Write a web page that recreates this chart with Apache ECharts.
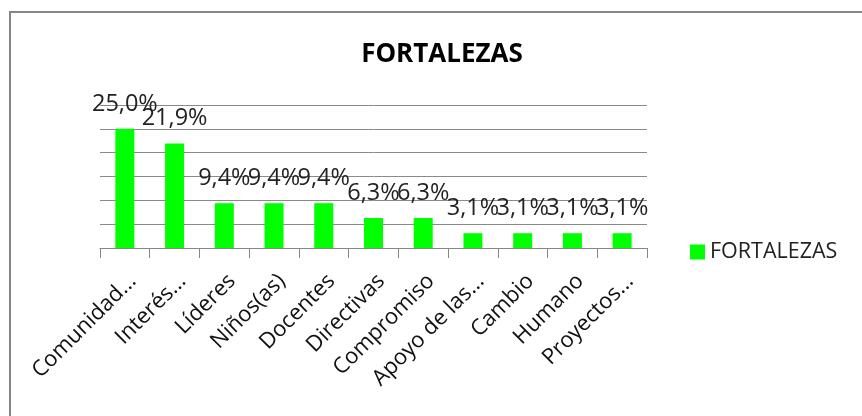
<!DOCTYPE html>
<html>
<head>
<meta charset="utf-8">
<script src="https://cdn.jsdelivr.net/npm/echarts@6/dist/echarts.min.js"></script>
<style>
html,body{margin:0;padding:0;background:#fff;}
#chart{width:862px;height:416px;}
</style>
</head>
<body>
<div id="chart"></div>
<script>
var titleText = 'FORTALEZAS';
var seriesName = 'FORTALEZAS';
var categories = ['Comunidad...', 'Interés...', 'Líderes', 'Niños(as)', 'Docentes', 'Directivas', 'Compromiso', 'Apoyo de las...', 'Cambio', 'Humano', 'Proyectos...'];
var values = [25.0, 21.9, 9.4, 9.4, 9.4, 6.3, 6.3, 3.1, 3.1, 3.1, 3.1];
var yMin = 0, yMax = 30, yInterval = 5;

var FONT = "'Open Sans', 'Noto Sans', sans-serif";
var chart = echarts.init(document.getElementById('chart'), null, {renderer: 'canvas'});
chart.setOption({
  animation: false,
  backgroundColor: '#ffffff',
  title: {
    text: titleText,
    left: 437, top: 37, textAlign: 'center',
    textStyle: {fontFamily: FONT, fontSize: 26, fontWeight: 'bold', color: '#000'}
  },
  legend: {
    data: [seriesName],
    left: 685, top: 236,
    itemWidth: 15, itemHeight: 15, itemGap: 8,
    icon: 'rect',
    textStyle: {fontFamily: FONT, fontSize: 21.5, color: '#222'}
  },
  grid: {left: 100, right: 215, top: 105, bottom: 168, containLabel: false},
  xAxis: {
    type: 'category',
    data: categories,
    axisLine: {lineStyle: {color: '#868686', width: 1}},
    axisTick: {show: true, length: 10, lineStyle: {color: '#868686'}},
    axisLabel: {rotate: 45, margin: 22, interval: 0, verticalAlign: 'top', fontFamily: FONT, fontSize: 22, color: '#111'}
  },
  yAxis: {
    type: 'value',
    min: yMin, max: yMax, interval: yInterval,
    axisLine: {show: false},
    axisTick: {show: false},
    axisLabel: {show: false},
    splitLine: {lineStyle: {color: '#8a8a8a', width: 1}}
  },
  graphic: [{
    type: 'rect', silent: true, z: -1,
    shape: {x: 10, y: 12, width: 900, height: 500},
    style: {fill: 'none', stroke: '#868686', lineWidth: 2}
  }],
  series: [{
    name: seriesName,
    type: 'bar',
    data: values,
    barWidth: 19,
    itemStyle: {color: '#00ff00'},
    label: {
      show: true, position: 'top', distance: 13,
      fontFamily: FONT, fontSize: 23.5, color: '#222',
      formatter: function (p) { return p.value.toFixed(1).replace('.', ',') + '%'; }
    }
  }]
});
</script>
</body>
</html>
